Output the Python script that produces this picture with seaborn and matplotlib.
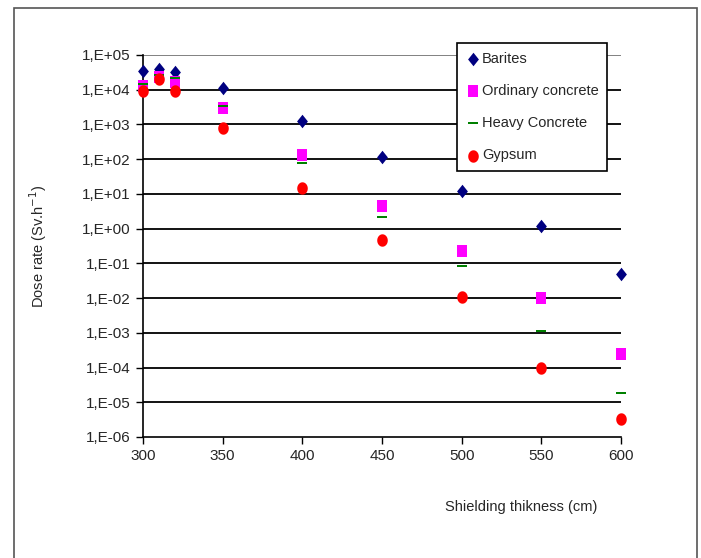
import matplotlib
matplotlib.use("Agg")
import matplotlib.pyplot as plt
import matplotlib.ticker as mticker
import matplotlib.patches as mpatches
import seaborn as sns
import pandas as pd
import numpy as np

thickness = [300, 310, 320, 350, 400, 450, 500, 550, 600]
barites = [3.5e4, 4.0e4, 3.2e4, 1.1e4, 1.25e3, 1.15e2, 1.2e1, 1.2e0, 4.8e-2]
ordinary = [1.3e4, 2.3e4, 1.7e4, 3.0e3, 1.3e2, 4.6e0, 2.3e-1, 1.0e-2, 2.4e-4]
heavy = [1.45e4, 2.6e4, 2.2e4, 3.5e3, 8.0e1, 2.1e0, 8.3e-2, 1.1e-3, 1.9e-5]
gypsum = [9.4e3, 2.0e4, 9.0e3, 7.9e2, 1.5e1, 4.8e-1, 1.1e-2, 1.0e-4, 3.2e-6]

names = ["Barites", "Ordinary concrete", "Heavy Concrete", "Gypsum"]
df = pd.DataFrame({
    "thickness": thickness * 4,
    "dose": barites + ordinary + heavy + gypsum,
    "material": np.repeat(names, len(thickness)),
})

sns.set_style("white")
plt.rcParams["font.family"] = ["Liberation Sans", "DejaVu Sans"]

# marker shapes
t = np.linspace(0, 2 * np.pi, 40)
ellipse = list(zip(0.85 * np.cos(t), np.sin(t)))
diamond = [(0, -1), (0.8, 0), (0, 1), (-0.8, 0)]
square = [(-0.8, -1), (0.8, -1), (0.8, 1), (-0.8, 1)]
dash = [(-1, -0.28), (1, -0.28), (1, 0.28), (-1, 0.28)]
styles = {
    "Barites": dict(color="#000080", marker=diamond, s=95),
    "Ordinary concrete": dict(color="#FF00FF", marker=square, s=70),
    "Heavy Concrete": dict(color="#008000", marker=dash, s=55),
    "Gypsum": dict(color="#FF0000", marker=ellipse, s=80),
}

fig = plt.figure(figsize=(7.01, 5.58), dpi=100)
ax = fig.add_axes([143 / 701, 1 - 437 / 558, 478 / 701, 382 / 558])

# outer chart frame
fig.patches.append(mpatches.Rectangle((14 / 701, -0.05), 683 / 701, 1.05 - 8 / 558,
                                      transform=fig.transFigure, fill=False,
                                      edgecolor="#555555", linewidth=1.2))

for name in names:
    st = styles[name]
    sub = df[df["material"] == name]
    sns.scatterplot(data=sub, x="thickness", y="dose", ax=ax, color=st["color"],
                    marker=st["marker"], s=st["s"], linewidth=0, label=name,
                    zorder=3, clip_on=False)

ax.set_yscale("log")
ax.set_ylim(1e-6, 1e5)
ax.set_xlim(300, 600)
ax.set_xticks([300, 350, 400, 450, 500, 550, 600])
ax.yaxis.set_major_locator(mticker.LogLocator(base=10, numticks=20))
ax.yaxis.set_minor_locator(mticker.NullLocator())
ax.yaxis.set_major_formatter(mticker.FuncFormatter(
    lambda v, p: "1,E{:+03d}".format(int(round(np.log10(v))))))

for d in range(-5, 6):
    ax.axhline(10.0 ** d, color="#000000" if d < 5 else "#777777", linewidth=1.3, zorder=1)

for side in ["top", "right"]:
    ax.spines[side].set_visible(False)
ax.spines["left"].set_color("black")
ax.spines["bottom"].set_color("black")
ax.spines["left"].set_linewidth(1.2)
ax.spines["bottom"].set_linewidth(1.2)
ax.tick_params(axis="both", direction="out", length=5, width=1, color="black",
               labelsize=11, pad=4, left=True, bottom=True)

ax.set_xlabel("")
ax.set_ylabel("Dose rate (Sv.h$^{-1}$)", fontsize=10.5, labelpad=24)
fig.text(521 / 701, 1 - 507 / 558, "Shielding thikness (cm)", ha="center", va="center", fontsize=10.5)

leg = ax.legend(loc="upper left", bbox_to_anchor=(457 / 701, 1 - 43 / 558),
                bbox_transform=fig.transFigure, frameon=True, fancybox=False,
                edgecolor="black", framealpha=1, fontsize=10.5, labelspacing=1.25,
                handletextpad=0.1, handlelength=1.0, borderpad=0.6, borderaxespad=0)
leg.get_frame().set_linewidth(1.2)
leg.set_zorder(5)

fig.savefig("out.png", dpi=100)
